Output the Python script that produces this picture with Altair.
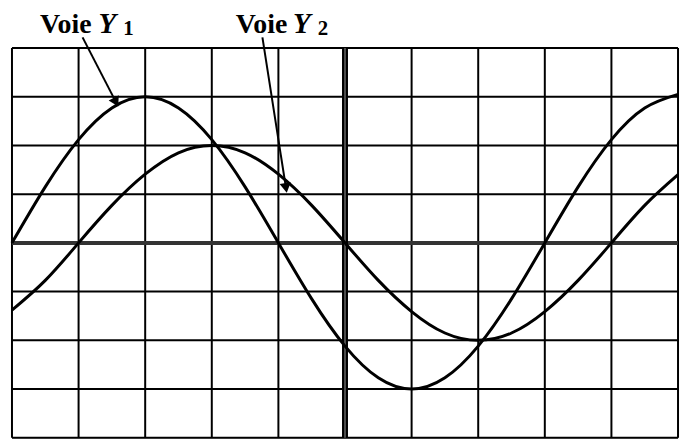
import altair as alt
import pandas as pd

# horizontal positions in screen divisions
x_div = [0, 0.5, 1, 1.5, 2, 2.5, 3, 3.5, 4, 4.5, 5, 5.5, 6, 6.5, 7, 7.5, 8, 8.5, 9, 9.5, 10]
# Voie Y1 (divisions)
y1_vals = [0, 1.15, 2.12, 2.77, 3.0, 2.77, 2.12, 1.15, 0, -1.15, -2.12, -2.77, -3.0, -2.77, -2.12, -1.15, 0, 1.15, 2.12, 2.77, 3.05]
# Voie Y2 (divisions)
y2_vals = [-1.38, -0.77, 0, 0.77, 1.41, 1.85, 2.0, 1.85, 1.41, 0.77, 0, -0.77, -1.41, -1.85, -2.0, -1.85, -1.41, -0.77, 0, 0.77, 1.4]

grid_x = list(range(0, 11))
grid_y = list(range(-4, 5))

# annotation labels
label_names = ["Y1", "Y2"]
label_voie_x = [0.42, 3.36]
label_y_x = [1.30, 4.22]
label_sub_x = [1.67, 4.59]
label_sub = ["1", "2"]
label_base_y = 4.31

# arrows: start and tip (in divisions)
arrow_x = [1.06, 3.76]
arrow_y = [4.22, 4.22]
arrow_x2 = [1.55, 4.11]
arrow_y2 = [2.92, 1.16]
arrow_angle = [152.4, 170.7]

curves = pd.DataFrame({
    "x": x_div * 2,
    "y": y1_vals + y2_vals,
    "voie": ["Y1"] * len(x_div) + ["Y2"] * len(x_div),
})
labels = pd.DataFrame({
    "voie": label_names, "xv": label_voie_x, "xy": label_y_x, "xs": label_sub_x,
    "sub": label_sub, "yb": [label_base_y] * 2,
})
arrows = pd.DataFrame({"x": arrow_x, "y": arrow_y, "x2": arrow_x2, "y2": arrow_y2, "ang": arrow_angle})

xs = alt.Scale(domain=[0, 10], nice=False, zero=False)
ys = alt.Scale(domain=[-4, 4], nice=False, zero=False)
X = lambda f: alt.X(f, type="quantitative", scale=xs, axis=None)
Y = lambda f: alt.Y(f, type="quantitative", scale=ys, axis=None)

vgrid = alt.Chart(pd.DataFrame({"x": grid_x})).mark_rule(color="black", strokeWidth=2).encode(x=X("x"))
hgrid = alt.Chart(pd.DataFrame({"y": grid_y})).mark_rule(color="black", strokeWidth=2).encode(y=Y("y"))
hcenter = alt.Chart(pd.DataFrame({"y": [0]})).mark_rule(color="#333333", strokeWidth=4).encode(y=Y("y"))
vcenter = alt.Chart(pd.DataFrame({"x": [5]})).mark_rule(color="black", strokeWidth=6).encode(x=X("x"))
vcenter_in = alt.Chart(pd.DataFrame({"x": [5]})).mark_rule(color="#9a9a9a", strokeWidth=1).encode(x=X("x"))

lines = alt.Chart(curves).mark_line(color="black", strokeWidth=3, interpolate="natural").encode(
    x=X("x"), y=Y("y"), detail="voie:N"
)

arrow_lines = alt.Chart(arrows).mark_rule(color="black", strokeWidth=2).encode(
    x=X("x"), y=Y("y"), x2="x2", y2="y2"
)
arrow_heads = alt.Chart(arrows).mark_point(shape="triangle", filled=True, color="black", opacity=1, size=130).encode(
    x=X("x2"), y=Y("y2"), angle=alt.Angle("ang:Q", scale=None)
)

font = "Liberation Serif"
t_voie = alt.Chart(labels).mark_text(text="Voie", font=font, fontWeight="bold", fontSize=28,
                                     align="left", baseline="alphabetic", color="black").encode(x=X("xv"), y=Y("yb"))
t_y = alt.Chart(labels).mark_text(text="Y", font=font, fontWeight="bold", fontStyle="italic", fontSize=29,
                                  align="left", baseline="alphabetic", color="black").encode(x=X("xy"), y=Y("yb"))
t_sub = alt.Chart(labels).mark_text(font=font, fontWeight="bold", fontSize=21, dy=2,
                                    align="left", baseline="alphabetic", color="black").encode(
    x=X("xs"), y=Y("yb"), text="sub:N")

chart = alt.layer(
    vgrid, hgrid, hcenter, vcenter, vcenter_in, lines, arrow_lines, arrow_heads, t_voie, t_y, t_sub
).properties(
    width=670, height=392,
    autosize=alt.AutoSizeParams(type="none"),
    padding={"left": 4, "top": 39, "right": 4, "bottom": 2},
).configure_view(stroke="black", strokeWidth=2).configure(background="white")

chart.save("out.html", embed_options={"renderer": "svg", "actions": False})
